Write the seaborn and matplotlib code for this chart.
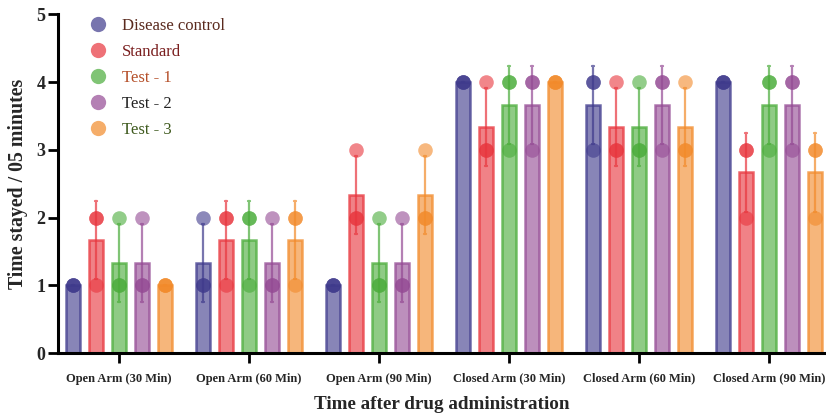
import numpy as np
import pandas as pd
import matplotlib
matplotlib.use("Agg")
import matplotlib.pyplot as plt
from matplotlib.colors import to_rgba
from matplotlib.lines import Line2D
import seaborn as sns

# Time points / arms on the x axis
groups = ["Open Arm (30 Min)", "Open Arm (60 Min)", "Open Arm (90 Min)",
          "Closed Arm (30 Min)", "Closed Arm (60 Min)", "Closed Arm (90 Min)"]
treatments = ["Disease control", "Standard", "Test - 1", "Test - 2", "Test - 3"]

# Individual animal scores (n = 3) for each arm / time point
disease_control = [[1, 1, 1], [2, 1, 1], [1, 1, 1], [4, 4, 4], [4, 4, 3], [4, 4, 4]]
standard        = [[2, 2, 1], [2, 2, 1], [3, 2, 2], [4, 3, 3], [4, 3, 3], [3, 3, 2]]
test_1          = [[2, 1, 1], [2, 2, 1], [2, 1, 1], [4, 4, 3], [4, 3, 3], [4, 4, 3]]
test_2          = [[2, 1, 1], [2, 1, 1], [2, 1, 1], [4, 4, 3], [4, 4, 3], [4, 4, 3]]
test_3          = [[1, 1, 1], [2, 2, 1], [3, 2, 2], [4, 4, 4], [4, 3, 3], [3, 3, 2]]

y_ticks = [0, 1, 2, 3, 4, 5]

series = dict(zip(treatments, [disease_control, standard, test_1, test_2, test_3]))
rows = []
for trt, per_group in series.items():
    for grp, reps in zip(groups, per_group):
        for v in reps:
            rows.append({"group": grp, "treatment": trt, "score": v})
df = pd.DataFrame(rows)

colors = ["#3f3a8c", "#e8353d", "#4aac3a", "#944a94", "#f28a2a"]
palette = dict(zip(treatments, colors))
label_colors = ["#5a2a1e", "#7a1f1f", "#b5502a", "#222222", "#3f5a1e"]

sns.set_style("ticks")
plt.rcParams["font.family"] = ["Liberation Serif", "DejaVu Serif"]

fig = plt.figure(figsize=(8.26, 4.13), dpi=100)
ax = fig.add_axes([0.070, 0.145, 0.930, 0.82])

sns.barplot(data=df, x="group", y="score", hue="treatment", order=groups,
            hue_order=treatments, palette=palette, errorbar="sd",
            width=0.885, gap=0.40, capsize=0.055, legend=False, ax=ax,
            err_kws={"linewidth": 1.6})

# restyle bars: translucent fill with stronger outline
bar_info = []
for p in ax.patches:
    fc = p.get_facecolor()
    hue_idx = int(np.argmin([np.sum(np.abs(np.array(to_rgba(c)[:3]) - np.array(fc[:3])))
                             for c in colors]))
    base = colors[hue_idx]
    p.set_facecolor(to_rgba(base, 0.62))
    p.set_edgecolor(to_rgba(base, 0.75))
    p.set_linewidth(1.8)
    cx = p.get_x() + p.get_width() / 2
    bar_info.append((cx, hue_idx))

# colour error bars like their bars
for ln in ax.lines:
    xs = np.asarray(ln.get_xdata(), dtype=float)
    xm = np.nanmean(xs)
    cx, h = min(bar_info, key=lambda b: abs(b[0] - xm))
    ln.set_color(to_rgba(colors[h], 0.7))
    ln.set_zorder(3)

# individual points on top of each bar
for cx, h in bar_info:
    g = int(round(cx))
    vals = series[treatments[h]][g]
    ax.scatter([cx] * len(vals), vals, s=110, color=colors[h], alpha=0.6,
               linewidths=0, zorder=4)

ax.set_ylim(0, 5)
ax.set_xlim(-0.47, 5.44)
ax.set_yticks(y_ticks)
ax.set_yticklabels([str(t) for t in y_ticks], fontsize=13, fontweight="bold")
ax.set_xticks(range(len(groups)))
ax.set_xticklabels(groups, fontsize=9, fontweight="bold")
ax.tick_params(axis="both", width=2, length=7, color="black")
ax.tick_params(axis="x", pad=7)
ax.tick_params(axis="y", pad=2)
for side in ["left", "bottom"]:
    ax.spines[side].set_linewidth(2.2)
    ax.spines[side].set_color("black")
sns.despine(ax=ax)

ax.set_xlabel("Time after drug administration", fontsize=13.8, fontweight="bold", labelpad=8)
ax.set_ylabel("Time stayed / 05 minutes", fontsize=14.3, fontweight="bold", labelpad=6)

handles = [Line2D([0], [0], marker="o", linestyle="none", markersize=11,
                  markerfacecolor=to_rgba(c, 0.7), markeredgewidth=0) for c in colors]
ax.legend(handles, treatments, loc="upper left", bbox_to_anchor=(0.02, 1.035),
          frameon=False, labelcolor=label_colors, prop={"family": "Liberation Serif", "size": 12},
          labelspacing=0.6, handletextpad=0.8, handlelength=1.2)

fig.savefig("out.png", dpi=100)
